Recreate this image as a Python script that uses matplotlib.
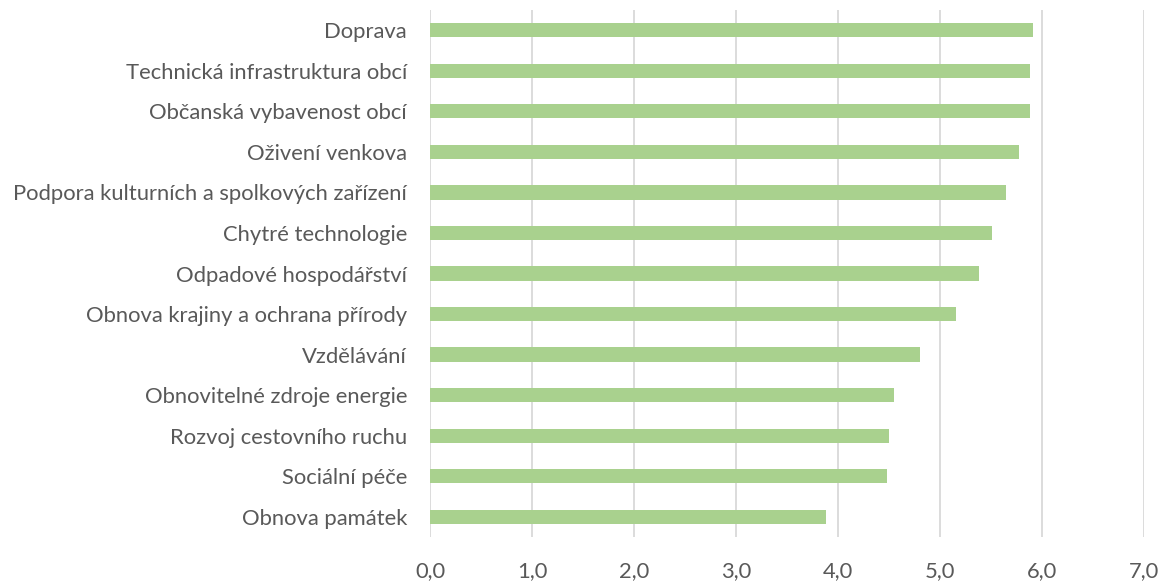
import matplotlib
matplotlib.use("Agg")
import matplotlib.pyplot as plt
from matplotlib.ticker import FuncFormatter

categories = [
    "Doprava",
    "Technická infrastruktura obcí",
    "Občanská vybavenost obcí",
    "Oživení venkova",
    "Podpora kulturních a spolkových zařízení",
    "Chytré technologie",
    "Odpadové hospodářství",
    "Obnova krajiny a ochrana přírody",
    "Vzdělávání",
    "Obnovitelné zdroje energie",
    "Rozvoj cestovního ruchu",
    "Sociální péče",
    "Obnova památek",
]
values = [5.91, 5.88, 5.88, 5.77, 5.65, 5.51, 5.38, 5.16, 4.80, 4.55, 4.50, 4.48, 3.88]
xticks = [0, 1, 2, 3, 4, 5, 6, 7]

plt.rcParams['font.family'] = ['Lato', 'DejaVu Sans']

fig = plt.figure(figsize=(11.68, 5.81), dpi=100)
ax = fig.add_axes([430/1168, 1 - 537/581, (1144 - 430)/1168, (537 - 10)/581])

n = len(categories)
ypos = list(range(n))
ax.barh(ypos, values, height=0.35, color="#a9d18e", zorder=3)
ax.set_ylim(n - 0.5, -0.5)
ax.set_yticks(ypos)
ax.set_yticklabels(categories)
ax.set_xlim(0, 7)
ax.set_xticks(xticks)
ax.xaxis.set_major_formatter(FuncFormatter(lambda v, p: f"{v:.1f}".replace(".", ",")))
ax.grid(axis="x", color="#d9d9d9", linewidth=1.3, zorder=0)
ax.tick_params(axis="both", length=0, labelsize=15.8, labelcolor="#595959")
ax.tick_params(axis="y", pad=16.5)
ax.tick_params(axis="x", pad=17)
for s in ax.spines.values():
    s.set_visible(False)

fig.savefig("out.png", dpi=100)
